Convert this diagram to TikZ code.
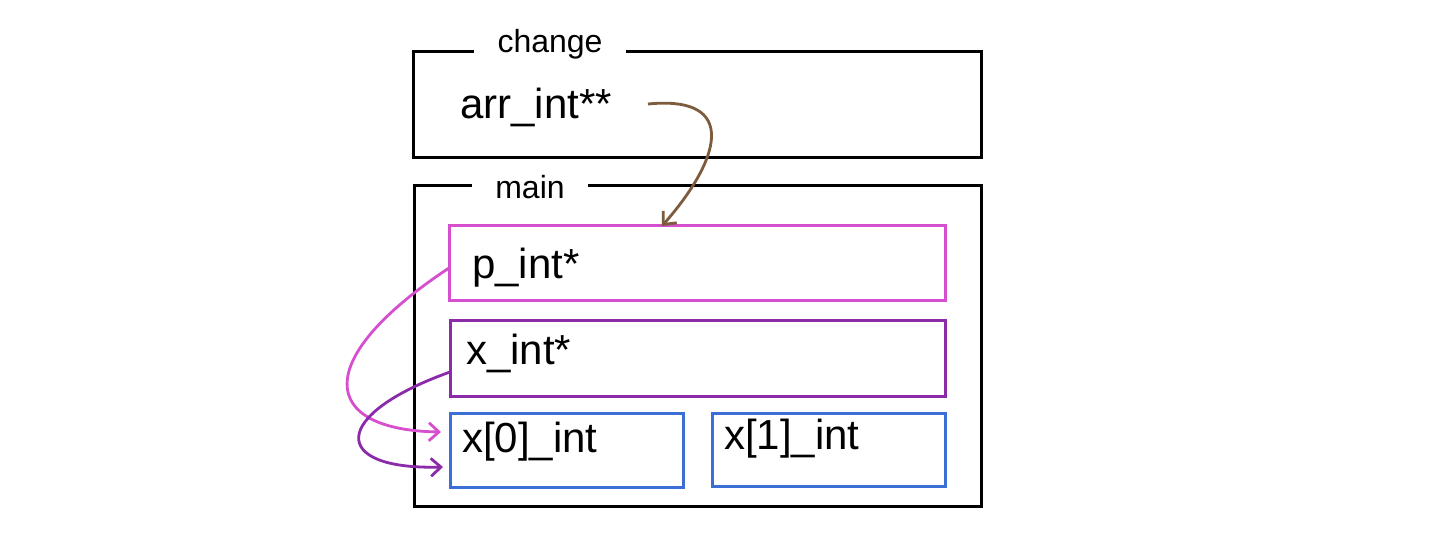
\documentclass[tikz,border=0pt]{standalone}
\usepackage{fontspec}
\setmainfont{Liberation Sans}
\usetikzlibrary{arrows.meta}
\definecolor{cbrown}{HTML}{7D5B3D}
\definecolor{cmag}{HTML}{D64FCF}
\definecolor{cpur}{HTML}{8B2BAA}
\definecolor{cblue}{HTML}{3C6FD6}
\tikzset{
  frame/.style={draw=black, line width=3pt, inner sep=0pt},
  cbox/.style={draw=#1, line width=3pt, inner sep=0pt},
  title/.style={fill=white, inner sep=0pt, font=\fontsize{32}{34}\selectfont},
  lbl/.style={anchor=west, inner sep=0pt, font=\fontsize{42}{44}\selectfont},
  arr/.style={line width=2.8pt, -{Straight Barb[length=10pt,width=18pt,line width=2.8pt]}},
}
\begin{document}
\begin{tikzpicture}[x=1pt,y=-1pt]
\useasboundingbox (0,0) rectangle (1440,533);
\fill[white] (0,0) rectangle (1440,533);
% outer frames
\node[frame, minimum width=568pt, minimum height=106pt] (chg) at (697,104) {};
\node[frame, minimum width=567pt, minimum height=321pt] (mn) at (697.5,345.5) {};
\node[title, minimum width=152pt, minimum height=20pt] (chgt) at (550,44) {change};
\node[title, minimum width=116pt, minimum height=20pt] (mnt) at (530,187) {main};
% inner boxes
\node[cbox=cmag, minimum width=496pt, minimum height=75pt] (pb) at (697,262.5) {};
\node[cbox=cpur, minimum width=495pt, minimum height=76pt] (xb) at (697.5,358) {};
\node[cbox=cblue, minimum width=233pt, minimum height=74pt] (x0) at (566.5,450) {};
\node[cbox=cblue, minimum width=233pt, minimum height=73pt] (x1) at (828.5,449.5) {};
% labels
\node[lbl] (arrl) at (460,107) {arr\_int**};
\node[lbl] (pl) at (472,268) {p\_int*};
\node[lbl] (xl) at (466,353) {x\_int*};
\node[lbl] (x0l) at (462,442) {x[0]\_int};
\node[lbl] (x1l) at (724,439) {x[1]\_int};
% connector endpoints
\coordinate (bs) at (648,104);
\coordinate (be) at (662,226);
\coordinate (ms) at (449,268);
\coordinate (me) at (441,432);
\coordinate (ps) at (450,372);
\coordinate (pe) at (443,467);
\draw[arr, cbrown] (bs) .. controls (740,95) and (720,160) .. (be);
\draw[arr, cmag] (ms) .. controls (310,360) and (320,430) .. (me);
\draw[arr, cpur] (ps) .. controls (330,415) and (330,470) .. (pe);
\end{tikzpicture}
\end{document}
